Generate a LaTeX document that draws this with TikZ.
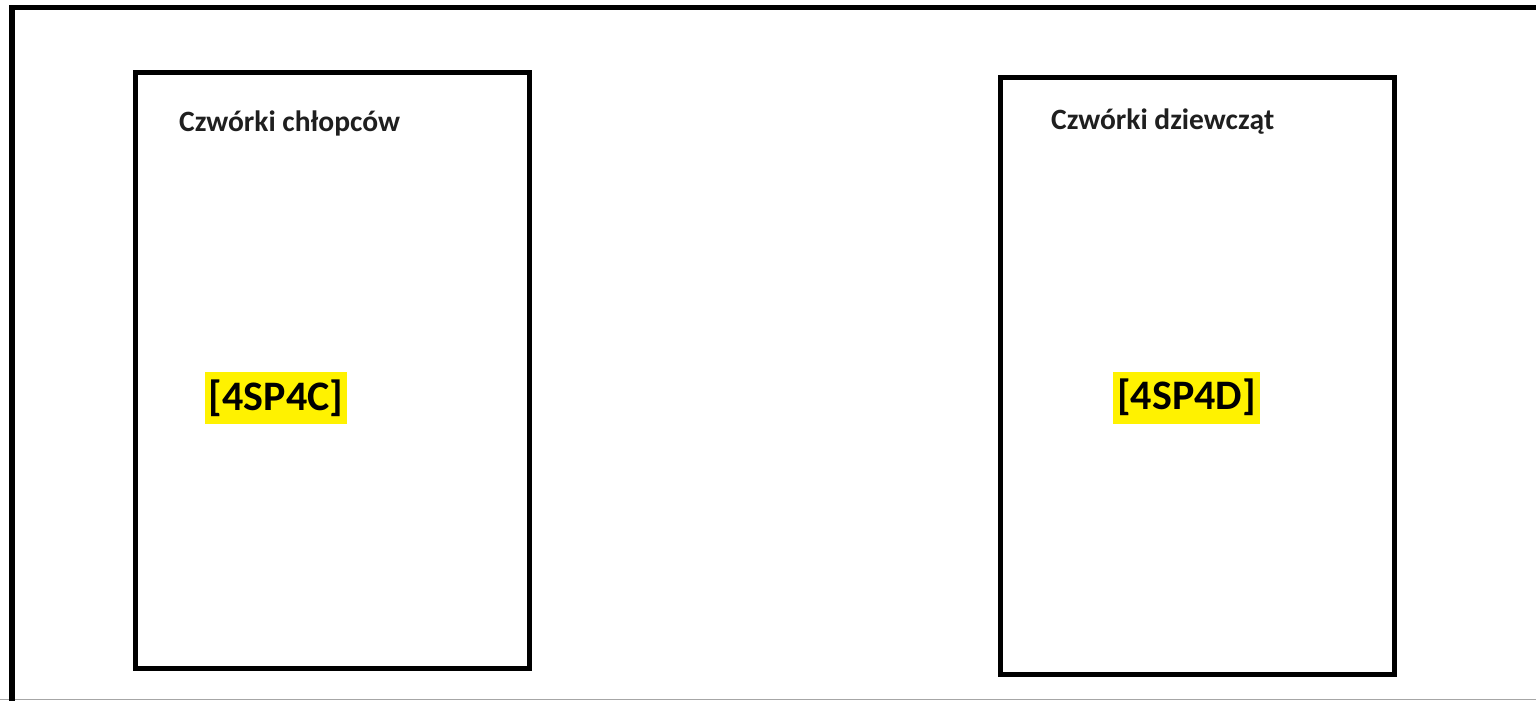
\documentclass[tikz,border=0pt]{standalone}
\usepackage{fontspec}
\setmainfont{Carlito}
\begin{document}
\begin{tikzpicture}[x=1pt,y=-1pt,
  group/.style={draw=black,line width=5pt,minimum width=393.5pt,minimum height=596pt,inner sep=0pt},
  title/.style={anchor=base west,inner sep=0pt,font=\fontsize{29.5}{31}\selectfont\bfseries,text=black!88},
  tag/.style={fill=yellow,inner xsep=4pt,inner ysep=0pt,minimum height=52pt,font=\fontsize{42}{44}\selectfont\bfseries,text=black}]
\useasboundingbox (0,0) rectangle (1536,701);
\fill[white] (0,0) rectangle (1536,701);
% outer frame (cut at right)
\coordinate (ftl) at (12,7.5);
\coordinate (ftr) at (1540,7.5);
\coordinate (fbl) at (12,705);
\coordinate (bl) at (0,699.5);
\coordinate (br) at (1536,699.5);
\draw[black!35,line width=1.6pt] (bl) -- (br);
\draw[black,line width=5.5pt] (fbl) -- (ftl) -- (ftr);
% boxes
\node[group] (boys) at (332.25,370.25) {};
\node[group,minimum width=394pt,minimum height=597.5pt] (girls) at (1197.5,375.75) {};
% titles
\node[title] (tboys) at (179,131.5) {Czwórki chłopców};
\node[title] (tgirls) at (1051,129.5) {Czwórki dziewcząt};
% tags
\node[tag] (cboys) at (276,398) {[4SP4C]};
\node[tag] (cgirls) at (1186.5,397.5) {[4SP4D]};
\end{tikzpicture}
\end{document}
